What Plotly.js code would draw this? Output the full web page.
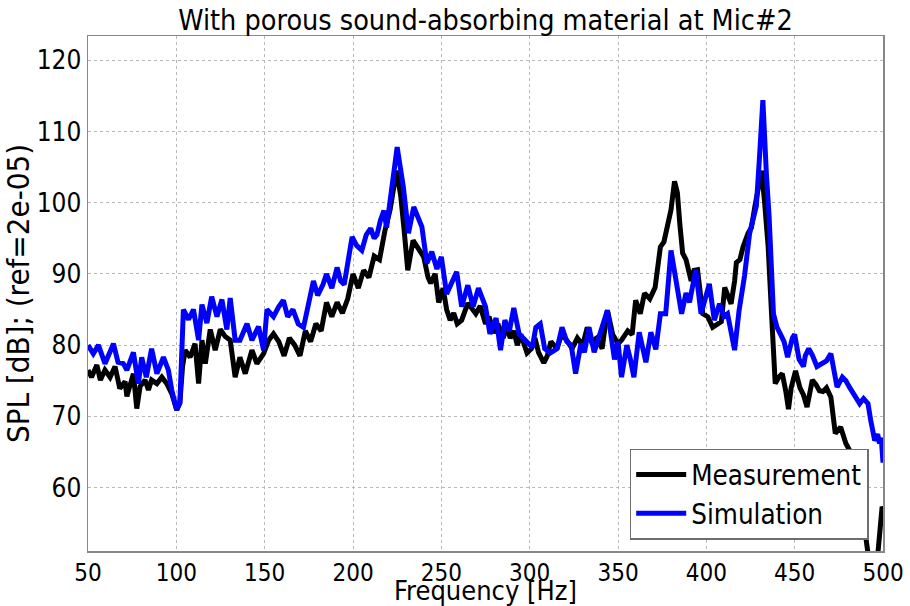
<!DOCTYPE html>
<html>
<head>
<meta charset="utf-8">
<script src="https://cdn.plot.ly/plotly-3.0.1.min.js"></script>
<style>html,body{margin:0;padding:0;background:#fff;}#chart{width:910px;height:606px;}</style>
</head>
<body>
<div id="chart"></div>
<script>
const freqMeasurement = [50,52,55,57,59.6,62.5,65.3,68,71,72,75.7,77.6,79.5,82.3,84.2,86,89,91.8,94.6,97.4,100.2,102,103.5,105,107.8,110.6,112.6,114.5,116.4,119.2,122,124.9,127.7,130.5,133.3,136,139,142.8,145.6,149.4,152.3,155,158,161,164,167,170,173,176,179,182,185,188,191,194,197,200,203,206,209,212,215,218,221,224.6,227,229,231,234,237,240,242.5,244,246.5,248.5,251,253,255,257,259,261.5,265,269.5,272,275,277,279.8,282,285,287,289,291,293,295,298.5,301,303,305,308,310,312,315.5,318,321,324,327,330,332.6,335,338,341,344,347,350,352,355.5,358,360,362.6,365,368,371,374,376,378,380,382,383.6,385,386.6,388.5,391.4,393,395,398,400.8,403.6,406,408.5,410.4,412,414,416,417,419,420.8,423.6,425.5,427.5,429.5,431.3,433,435,437,439,441,443,445,446.5,448,450.5,453,455,457,460,462,464,466,468,470.5,473,476,479,482,484,486,489,491,493,495,497,499.5,500];
const measurement = [76.5,75.5,77.2,75.1,76.5,75.5,77,73.9,74.9,72.8,76,71.1,74.2,75.1,73.7,75.1,74.6,75.5,74.6,73.2,70.9,71.9,77,79.3,78.3,80.2,74.6,80.7,77.4,82.2,79.3,82.2,81.2,80.7,75.5,78.3,76,79.3,77.4,78.8,80.7,81.6,80.5,78.5,81,80,78.5,82,80.5,83,82,86,84,86,84.5,86.5,90,88,90.5,89.5,92.5,92,96,99,104.5,101,96,90.5,94.7,93.5,92.4,89.5,88.7,90,86,88,85,83.5,84.5,83,83.5,85.9,84.4,85.5,83,84,81.7,83,81,82.5,81,82,80,81.5,78.9,79.5,81,79,77.5,78.5,80.5,79.5,81.5,80.7,79.5,81,80,82.5,80.5,81,79.5,84.9,81.5,80.2,80.7,82,81.5,86.3,84.4,87.3,86.5,88.1,93.8,94.5,96.6,99,103,101.4,97,92.9,92,89,90.5,90.6,84.4,84,82.5,83,83.3,88.1,87,85.8,89,91.6,92,93.8,95.7,96.5,99.5,102,104.5,100,93.8,84,74.6,75.5,76,73.5,71,74,76.4,74,73,71.3,75.1,74.5,73.6,73.5,74,72.7,67.6,68.5,66.2,64.8,62.5,60.1,55.4,51.5,48,47,50.5,57.3,57];

const freqSimulation = [50,53,55.9,59.6,64.4,67,70,72,75.7,78.5,80.4,83,86,89,92.7,95.5,97.4,100.2,102,104,106.9,109.7,112.6,114.5,117.3,120,123,125.8,128.6,130.5,133.3,136,140,142.8,146.5,149.4,151.3,155,158,160.6,163,166,169,172,175,177.6,180,183,185,188,191,193,195,197,199.5,202,205,207.5,210,212,213.6,215.5,217.5,219,222,225,228.5,231.4,234.4,236,239,241.8,244.6,247.5,250,253,255.5,258.7,261.5,265,268,271,275,277.5,281,283.5,286,288.5,291,294,297.5,301.5,303.5,306,308.5,311.7,315.5,318.3,321,323.5,326,329,331,333.6,336.5,340,344,348,350,352,355,357,359,362,365.8,368.6,371.4,374,377,380,383,386,388.5,390.5,394,397,401.7,404.5,407.5,410,412,414,416,418.5,421.6,424.5,428.3,430,432,434,435.5,438,440,442,444,446,448.7,450,452.5,455,456,458,460,462.6,465.5,468,470.5,472,474,477,479,481,484,486.8,489,491.5,493,495.3,497,498,499,500];
const simulation = [80,78.8,80,77.4,80.2,77.6,77.4,76.5,79,74.6,78.3,75.5,79.5,76,78.3,76.5,73.7,70.9,71.9,85,83.6,85,80.7,85.7,83.1,86.8,84,86.4,82.2,86.6,80.7,80.7,83,80.7,82.6,79.3,85,84,85.4,86.3,84,85,83,82.5,86,89,87,88.5,90,88,90.9,89,88.5,92,95.2,94,93.3,95.5,96.4,95,95.5,97.5,98.9,96.5,102,107.8,102.2,95.7,99.4,98.5,96.6,91.5,93.1,90.7,92.4,87.2,88.5,90.3,85.4,88.4,85.4,88,85.4,81.6,83.8,79.3,83.5,82,85.2,81.6,80.7,79.7,82.5,83,79.5,78.9,79.5,82.5,80.5,80,76,80.2,79,82.5,79,81.6,84.9,78,80.5,75.5,80,78,75.5,81.8,77.6,81.8,79.4,84.4,84.4,93.3,88.6,84.4,87.3,86,90.6,84.4,88.6,83.5,85.8,84,84.4,82,79.3,84.8,89.7,95.7,99.5,106,114.4,104,98.2,84.4,82.5,81.5,80.5,78.3,81,81.5,78,77,78.5,79.5,78.6,77,77.5,77.8,78.8,76.5,74.1,75.5,75,74.1,73,71.8,72.5,71.8,69.5,66.6,67.5,66.2,67,63.5];

const xTicks = [50,100,150,200,250,300,350,400,450,500];
const yTicks = [60,70,80,90,100,110,120];
const seriesNames = ["Measurement","Simulation"];

const FONT = "DejaVu Sans Condensed, DejaVu Sans, sans-serif";

const traces = [
  {x: freqMeasurement, y: measurement, name: seriesNames[0], type: "scatter", mode: "lines",
   line: {color: "#000000", width: 5}},
  {x: freqSimulation, y: simulation, name: seriesNames[1], type: "scatter", mode: "lines",
   line: {color: "#0000ff", width: 5}}
];

const layout = {
  width: 910, height: 606,
  margin: {l: 88, r: 27, t: 36, b: 55, pad: 0},
  paper_bgcolor: "#ffffff", plot_bgcolor: "#ffffff",
  font: {family: FONT, color: "#000000", size: 25},
  title: {text: "With porous sound-absorbing material at Mic#2", font: {family: FONT, size: 28.5, color: "#000"},
          x: 0.5, xref: "paper", y: 1 - 20/606, yref: "container", yanchor: "middle"},
  showlegend: true,
  legend: {x: 0.982, xanchor: "right", y: 0.022, yanchor: "bottom",
           bgcolor: "#ffffff", bordercolor: "#6e6e6e", borderwidth: 1.5, itemwidth: 50,
           font: {family: FONT, size: 27.5, color: "#000"}, tracegroupgap: 0},
  xaxis: {
    range: [50, 500], tickvals: xTicks, ticktext: xTicks.map(String),
    showgrid: true, gridcolor: "#b8b8b8", griddash: "dot", gridwidth: 1,
    zeroline: false, showline: true, linecolor: "#888888", linewidth: 1.5, mirror: true,
    ticks: "", tickfont: {family: FONT, size: 24, color: "#000"},
    title: {text: "Frequency [Hz]", font: {family: FONT, size: 27, color: "#000"}, standoff: 7}
  },
  yaxis: {
    range: [51.1, 123.4], tickvals: yTicks, ticktext: yTicks.map(String),
    showgrid: true, gridcolor: "#b8b8b8", griddash: "dot", gridwidth: 1,
    zeroline: false, showline: true, linecolor: "#888888", linewidth: 1.5, mirror: true,
    ticks: "", tickfont: {family: FONT, size: 26, color: "#000"},
    title: {text: "SPL [dB]; (ref=2e-05)", font: {family: FONT, size: 31, color: "#000"}, standoff: 4}
  }
};

Plotly.newPlot("chart", traces, layout, {displayModeBar: false, staticPlot: true});
</script>
</body>
</html>
